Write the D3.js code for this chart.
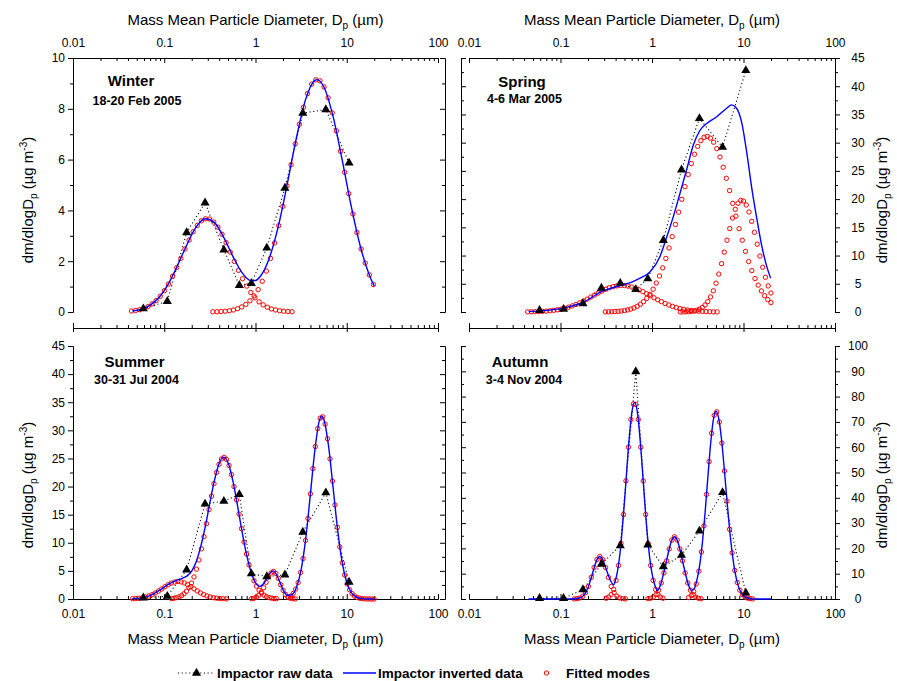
<!DOCTYPE html>
<html>
<head>
<meta charset="utf-8">
<script src="https://cdnjs.cloudflare.com/ajax/libs/d3/7.8.5/d3.min.js"></script>
<style>
  body { margin: 0; background: #fff; }
  svg { display: block; font-family: "Liberation Sans", Arial, sans-serif; }
  .axis path, .axis line { stroke: #000; stroke-width: 1; }
  .axis text { font-size: 12px; fill: #000; font-family: "Liberation Sans", Arial, sans-serif; }
</style>
</head>
<body>
<div id="chart"></div>
<script>
// impactor stage diameters (um), same for every season
var stageD = [0.059, 0.108, 0.176, 0.28, 0.45, 0.665, 0.9, 1.33, 2.1, 3.3, 5.9, 10.6];

var xMajor = [0.01, 0.1, 1, 10, 100];
var winterTicks = [0, 2, 4, 6, 8, 10];
var springTicks = [0, 5, 10, 15, 20, 25, 30, 35, 40, 45];
var summerTicks = [0, 5, 10, 15, 20, 25, 30, 35, 40, 45];
var autumnTicks = [0, 10, 20, 30, 40, 50, 60, 70, 80, 90, 100];

// ---- Winter ----
var winterRaw = [0.13, 0.42, 3.13, 4.30, 2.45, 1.05, 1.13, 2.52, 4.88, 7.83, 7.97, 5.87];
var winterInvD = [0.0447,0.0562,0.0708,0.0891,0.112,0.141,0.178,0.224,0.282,0.355,0.447,0.562,0.708,0.891,1.0,1.12,1.41,1.78,2.24,2.82,3.55,4.47,4.73,5.62,7.08,8.91,11.2,14.1,17.8,20.0];
var winterInvV = [0.04,0.11,0.28,0.60,1.13,1.86,2.67,3.35,3.67,3.52,2.95,2.21,1.56,1.23,1.24,1.39,2.10,3.38,5.08,6.89,8.38,9.12,9.15,8.86,7.70,5.99,4.16,2.58,1.43,1.02];
var winterMode1 = [0.04,0.06,0.09,0.14,0.21,0.32,0.45,0.62,0.84,1.10,1.41,1.75,2.11,2.48,2.83,3.16,3.41,3.59,3.67,3.66,3.54,3.34,3.06,2.73,2.36,1.99,1.64,1.31,1.02,0.77,0.56,0.40,0.28,0.19,0.12,0.08,0.05,0.03,0.02,0.01];
var winterMode1Range = [0.0437, 2.51];
var winterMode2 = [0.01,0.01,0.02,0.03,0.05,0.08,0.13,0.20,0.30,0.44,0.63,0.88,1.21,1.61,2.11,2.72,3.40,4.16,4.97,5.80,6.62,7.39,8.06,8.60,8.97,9.14,9.10,8.86,8.43,7.84,7.13,6.33,5.50,4.66,3.86,3.13,2.48,1.93,1.46,1.08];
var winterMode2Range = [0.341, 19.6];

// ---- Spring ----
var springRaw = [0.3, 0.5, 1.5, 4.25, 5.1, 4.0, 5.9, 12.7, 25.2, 34.3, 29.2, 42.8];
var springInvD = [0.045,0.06,0.1,0.18,0.28,0.45,0.6,0.74,0.95,1.22,1.45,1.71,2.02,2.39,2.83,3.35,3.96,5.1,6.55,7.4,8.4,9.55,10.8,12.3,14.0,15.8,18.0,19.8];
var springInvV = [0.1,0.2,0.6,1.8,3.6,4.7,5.3,6.0,7.1,9.8,13.3,16.9,21.0,25.2,29.6,32.2,33.4,34.6,36.1,36.7,36.1,33.6,28.5,22.0,16.5,11.8,8.0,6.0];
var springMode1 = [0.02,0.04,0.05,0.08,0.11,0.15,0.21,0.29,0.39,0.51,0.67,0.85,1.08,1.33,1.62,1.94,2.28,2.64,3.00,3.37,3.72,4.02,4.29,4.49,4.63,4.70,4.68,4.59,4.43,4.20,3.92,3.60,3.25,2.89,2.52,2.16,1.83,1.52,1.24,1.00,0.79,0.61,0.47,0.35,0.26,0.19,0.14,0.10,0.07,0.05,0.03,0.02];
var springMode1Range = [0.0438, 5.15];
var springMode2 = [0.02,0.03,0.05,0.08,0.12,0.17,0.25,0.37,0.52,0.73,1.00,1.37,1.83,2.41,3.14,4.04,5.12,6.39,7.82,9.48,11.34,13.36,15.51,17.69,19.97,22.21,24.34,26.30,27.95,29.34,30.35,30.95,31.10,30.80,30.08,28.94,27.45,25.65,23.69,21.51,19.25,16.98,14.76,12.71,10.74,8.94,7.33,5.93,4.76,3.74,2.89,2.21,1.66];
var springMode2Range = [0.309, 19.95];
var springMode3 = [0.01,0.02,0.03,0.06,0.11,0.18,0.31,0.51,0.81,1.24,1.85,2.68,3.75,5.10,6.72,8.57,10.60,12.72,14.78,16.65,18.19,19.26,19.77,19.66,18.96,17.72,16.06,14.11,12.01,9.91,7.93,6.15,4.62,3.37];
var springMode3Range = [2.04, 19.95];

// ---- Summer ----
var summerRaw = [0.2, 0.5, 5.2, 16.9, 17.4, 18.6, 4.5, 4.0, 4.3, 11.9, 18.9, 3.0];
var summerInvD = [0.0447,0.0562,0.0708,0.0891,0.112,0.141,0.158,0.178,0.2,0.224,0.251,0.282,0.316,0.355,0.398,0.447,0.501,0.562,0.631,0.708,0.794,0.891,1.0,1.12,1.26,1.41,1.57,1.78,2.0,2.24,2.51,2.82,3.16,3.55,3.98,4.47,5.01,5.32,5.62,6.31,7.08,7.94,8.91,10,11.2,12.6,14.1,15.8,20];
var summerInvV = [0.04,0.19,0.65,1.56,2.66,3.41,3.68,4.11,4.98,6.64,9.31,12.92,17.09,21.09,24.05,25.24,24.22,21.18,16.87,12.22,8.07,4.88,2.89,2.25,2.98,4.39,5.0,3.65,1.67,0.64,0.79,2.12,5.19,10.69,18.38,26.41,31.72,32.5,31.9,27.28,19.87,12.33,6.52,2.94,1.13,0.37,0.10,0.02,0.0];
var summerMode1 = [0.04,0.08,0.13,0.22,0.35,0.53,0.76,1.06,1.40,1.79,2.18,2.53,2.83,3.03,3.10,3.04,2.86,2.56,2.21,1.81,1.44,1.09,0.78,0.55,0.36,0.23,0.14,0.08,0.05,0.02];
var summerMode1Range = [0.045, 0.479];
var summerMode2 = [0.08,0.14,0.24,0.38,0.61,0.93,1.38,2.02,2.85,3.92,5.31,6.94,8.92,11.08,13.40,15.91,18.30,20.51,22.50,23.96,24.91,25.20,24.83,23.75,22.13,19.99,17.62,15.10,12.51,10.13,7.99,6.07,4.52,3.24,2.29,1.57,1.03,0.67,0.42,0.25,0.15,0.09,0.05];
var summerMode2Range = [0.120, 1.70];
var summerMode3 = [0.05,0.14,0.32,0.66,1.22,2.01,2.97,3.92,4.64,4.90,4.56,3.67,2.55,1.53,0.80,0.36,0.14,0.05,0.01];
var summerMode3Range = [0.904, 2.73];
var summerMode4 = [0.26,0.52,0.99,1.76,2.92,4.71,7.19,10.41,14.33,18.71,23.19,27.12,30.31,32.17,32.40,31.11,28.51,24.93,20.97,16.74,12.75,9.27,6.43,4.26,2.69,1.63,0.96,0.53,0.28,0.14,0.07,0.03,0.01,0.01,0,0];
var summerMode4Range = [2.29, 19.95];

// ---- Autumn ----
var autumnRaw = [0.25, 0.25, 3.7, 13.8, 21.1, 89.9, 21.4, 12.8, 17.3, 26.9, 42.1, 2.4];
var autumnInvD = [0.0447,0.126,0.158,0.178,0.200,0.224,0.251,0.269,0.288,0.316,0.355,0.380,0.398,0.447,0.501,0.562,0.603,0.646,0.692,0.741,0.794,0.832,0.891,0.955,1.0,1.072,1.148,1.230,1.318,1.413,1.514,1.622,1.762,1.905,2.042,2.188,2.344,2.512,2.692,2.884,3.090,3.311,3.548,3.802,4.074,4.365,4.677,5.012,5.370,5.754,6.166,6.607,7.079,7.586,8.128,8.710,9.333,10,11.22,12.59,15.85,19.95];
var autumnInvV = [0,0,0.27,1.34,4.49,10.19,15.66,16.82,15.73,11.76,7.01,5.6,7.3,18.1,38.71,63.19,73.86,77.8,73.86,63.19,48.7,38.66,25.14,14.89,10.14,5.5,3.3,5.2,9.13,13.67,18.57,22.62,24.6,22.83,18.89,13.98,9.33,5.4,3.4,4.0,7.37,13.08,21.99,34.07,47.89,61.08,70.68,74.2,71.23,63.05,51.43,38.67,26.81,17.13,10.09,5.48,2.74,1.26,0.29,0.05,0,0];
var autumnMode1 = [0.04,0.13,0.41,1.09,2.51,4.96,8.55,12.45,15.59,16.80,15.59,12.45,8.55,4.96,2.51,1.09,0.41,0.13,0.04];
var autumnMode1Range = [0.141, 0.513];
var autumnMode2 = [0.30,0.76,1.76,3.76,7.35,13.25,21.94,33.38,46.68,60.01,70.93,77.04,76.92,70.93,60.01,46.68,33.38,21.94,13.25,7.35,3.76,1.76,0.76,0.30];
var autumnMode2Range = [0.316, 1.318];
var autumnMode3 = [0.11,0.30,0.76,1.72,3.48,6.33,10.32,15.09,19.80,23.30,24.60,23.30,19.80,15.09,10.32,6.33,3.48,1.72,0.76,0.30,0.11];
var autumnMode3Range = [0.904, 3.436];
var autumnMode4 = [0.57,1.36,2.97,5.96,10.98,18.59,28.93,41.35,54.30,65.51,72.61,73.98,69.97,61.64,50.59,38.67,27.54,18.27,11.29,6.50,3.48,1.74,0.81,0.35,0.14,0.05];
var autumnMode4Range = [2.512, 12.59];

var panels = [
  { name: "Winter", date: "18-20 Feb 2005", col: 0, row: 0, ticks: winterTicks,
    raw: winterRaw, invD: winterInvD, invV: winterInvV,
    modes: [[winterMode1, winterMode1Range], [winterMode2, winterMode2Range]],
    nameAt: [131, 85.5], dateAt: [137, 104.5] },
  { name: "Spring", date: "4-6 Mar 2005", col: 1, row: 0, ticks: springTicks,
    raw: springRaw, invD: springInvD, invV: springInvV,
    modes: [[springMode1, springMode1Range], [springMode2, springMode2Range], [springMode3, springMode3Range]],
    nameAt: [522, 87], dateAt: [524.5, 103] },
  { name: "Summer", date: "30-31 Jul 2004", col: 0, row: 1, ticks: summerTicks,
    raw: summerRaw, invD: summerInvD, invV: summerInvV,
    modes: [[summerMode1, summerMode1Range], [summerMode2, summerMode2Range], [summerMode3, summerMode3Range], [summerMode4, summerMode4Range]],
    nameAt: [134.5, 366.5], dateAt: [136.5, 383.5] },
  { name: "Autumn", date: "3-4 Nov 2004", col: 1, row: 1, ticks: autumnTicks,
    raw: autumnRaw, invD: autumnInvD, invV: autumnInvV,
    modes: [[autumnMode1, autumnMode1Range], [autumnMode2, autumnMode2Range], [autumnMode3, autumnMode3Range], [autumnMode4, autumnMode4Range]],
    nameAt: [520, 366.5], dateAt: [524, 383.5] }
];

var W = 897, H = 681;
var colX = [[73, 438], [469, 835]];
var rowY = [[312, 58], [599, 346]];
var innerYAxisX = [445, 461];
var midY = 328;
var blue = "#0000ff", red = "#ff0000";

var svg = d3.select("#chart").append("svg")
    .attr("width", W)
    .attr("height", H);

function addAxis(g, gen, transform, keepText) {
  var a = g.append("g").attr("class", "axis").attr("transform", transform).call(gen);
  if (!keepText) a.selectAll("text").remove();
  return a;
}

function xTitle(sel) {
  sel.append("tspan").text("Mass Mean Particle Diameter, D");
  sel.append("tspan").attr("dy", 4).attr("font-size", "10px").text("p");
  sel.append("tspan").attr("dy", -4).text(" (\u00b5m)");
}

function yTitle(sel) {
  sel.append("tspan").text("dm/dlogD");
  sel.append("tspan").attr("dy", 4).attr("font-size", "10px").text("p");
  sel.append("tspan").attr("dy", -4).text(" (\u00b5g m");
  sel.append("tspan").attr("dy", -6).attr("font-size", "10px").text("-3");
  sel.append("tspan").attr("dy", 6).text(")");
}

var triangle = d3.symbol().type(d3.symbolTriangle).size(36);

panels.forEach(function(p) {
  var x = d3.scaleLog().domain([0.01, 100]).range(colX[p.col]);
  var yMax = p.ticks[p.ticks.length - 1];
  var y = d3.scaleLinear().domain([0, yMax]).range(rowY[p.row]);
  var step = p.ticks[1] - p.ticks[0];
  var yMinor = p.ticks.slice(1).map(function(t) { return t - step / 2; });
  var xMinor = x.ticks().filter(function(d) {
    var l = Math.log10(d);
    return Math.abs(l - Math.round(l)) > 1e-6;
  });

  var g = svg.append("g");

  // y axes
  if (p.col === 0) {
    addAxis(g, d3.axisLeft(y).tickValues(p.ticks).tickSizeInner(5).tickSizeOuter(0).tickPadding(3), "translate(73,0)", true);
    addAxis(g, d3.axisLeft(y).tickValues(yMinor).tickSizeInner(3).tickSizeOuter(0).tickFormat(""), "translate(73,0)");
    addAxis(g, d3.axisLeft(y).tickValues(p.ticks).tickSizeInner(5).tickSizeOuter(0), "translate(" + innerYAxisX[0] + ",0)");
    addAxis(g, d3.axisLeft(y).tickValues(yMinor).tickSizeInner(3).tickSizeOuter(0), "translate(" + innerYAxisX[0] + ",0)");
  } else {
    var ra = addAxis(g, d3.axisRight(y).tickValues(p.ticks).tickSizeInner(5).tickSizeOuter(0), "translate(835,0)", true);
    ra.selectAll("text").attr("x", 23).attr("text-anchor", "middle");
    addAxis(g, d3.axisRight(y).tickValues(yMinor).tickSizeInner(3).tickSizeOuter(0), "translate(835,0)");
    addAxis(g, d3.axisRight(y).tickValues(p.ticks).tickSizeInner(5).tickSizeOuter(0), "translate(" + innerYAxisX[1] + ",0)");
    addAxis(g, d3.axisRight(y).tickValues(yMinor).tickSizeInner(3).tickSizeOuter(0), "translate(" + innerYAxisX[1] + ",0)");
  }

  // x axes
  var fmt = function(d) { return String(d); };
  if (p.row === 0) {
    addAxis(g, d3.axisTop(x).tickValues(xMajor).tickSizeInner(-5).tickSizeOuter(0).tickPadding(11).tickFormat(fmt), "translate(0,58)", true);
    addAxis(g, d3.axisTop(x).tickValues(xMinor).tickSizeInner(-3).tickSizeOuter(0), "translate(0,58)");
    addAxis(g, d3.axisTop(x).tickValues(xMajor).tickSizeInner(5).tickSizeOuter(0), "translate(0," + midY + ")");
    addAxis(g, d3.axisTop(x).tickValues(xMinor).tickSizeInner(3).tickSizeOuter(0), "translate(0," + midY + ")");
    g.append("text")
        .attr("x", (colX[p.col][0] + colX[p.col][1]) / 2)
        .attr("y", 24.5)
        .attr("text-anchor", "middle")
        .attr("font-size", "15px")
        .call(xTitle);
  } else {
    addAxis(g, d3.axisBottom(x).tickValues(xMajor).tickSizeInner(-5).tickSizeOuter(0).tickPadding(10).tickFormat(fmt), "translate(0,599)", true);
    addAxis(g, d3.axisBottom(x).tickValues(xMinor).tickSizeInner(-3).tickSizeOuter(0), "translate(0,599)");
    addAxis(g, d3.axisBottom(x).tickValues(xMajor).tickSizeInner(4).tickSizeOuter(0), "translate(0," + midY + ")");
    g.append("text")
        .attr("x", (colX[p.col][0] + colX[p.col][1]) / 2)
        .attr("y", 643.5)
        .attr("text-anchor", "middle")
        .attr("font-size", "15px")
        .call(xTitle);
  }

  // y title
  var yc = p.row === 0 ? 200 : 485;
  var tx = p.col === 0 ? 33 : 887;
  g.append("text")
      .attr("transform", "translate(" + tx + "," + yc + ") rotate(-90)")
      .attr("text-anchor", "middle")
      .attr("font-size", "15px")
      .call(yTitle);

  // raw data: dotted line
  var rawPts = stageD.map(function(d, i) { return [d, p.raw[i]]; });
  g.append("path")
      .datum(rawPts)
      .attr("fill", "none")
      .attr("stroke", "#000")
      .attr("stroke-width", 1.1)
      .attr("stroke-dasharray", "1.1,2.6")
      .attr("d", d3.line().x(function(d) { return x(d[0]); }).y(function(d) { return y(d[1]); }));

  // fitted modes (red open circles)
  p.modes.forEach(function(m) {
    var vals = m[0], l0 = Math.log10(m[1][0]), l1 = Math.log10(m[1][1]);
    var n = vals.length;
    var pts = vals.map(function(v, i) { return [Math.pow(10, l0 + (l1 - l0) * i / (n - 1)), v]; });
    g.append("g").selectAll("circle")
        .data(pts)
        .enter()
        .append("circle")
        .attr("cx", function(d) { return x(d[0]); })
        .attr("cy", function(d) { return y(d[1]); })
        .attr("r", 2.2)
        .attr("fill", "none")
        .attr("stroke", red)
        .attr("stroke-width", 1);
  });

  // inverted data (blue line)
  var invPts = p.invD.map(function(d, i) { return [d, p.invV[i]]; });
  g.append("path")
      .datum(invPts)
      .attr("fill", "none")
      .attr("stroke", blue)
      .attr("stroke-width", 1.4)
      .attr("d", d3.line().curve(d3.curveMonotoneX).x(function(d) { return x(d[0]); }).y(function(d) { return y(d[1]); }));

  // raw data triangles
  g.append("g").selectAll("path")
      .data(rawPts)
      .enter()
      .append("path")
      .attr("d", triangle)
      .attr("transform", function(d) { return "translate(" + x(d[0]) + "," + y(d[1]) + ")"; })
      .attr("fill", "#000");

  // season labels
  g.append("text")
      .attr("x", p.nameAt[0]).attr("y", p.nameAt[1])
      .attr("text-anchor", "middle")
      .attr("font-size", "15px")
      .attr("font-weight", "bold")
      .text(p.name);
  g.append("text")
      .attr("x", p.dateAt[0]).attr("y", p.dateAt[1])
      .attr("text-anchor", "middle")
      .attr("font-size", "12.5px")
      .attr("font-weight", "bold")
      .text(p.date);
});

// legend
var leg = svg.append("g").attr("font-size", "13.5px").attr("font-weight", "bold");
var ly = 673;
leg.append("line")
    .attr("x1", 178).attr("x2", 214).attr("y1", ly).attr("y2", ly)
    .attr("stroke", "#000").attr("stroke-width", 1.1).attr("stroke-dasharray", "1.1,2.6");
leg.append("path").attr("d", triangle).attr("transform", "translate(196.5," + ly + ")").attr("fill", "#000");
leg.append("text").attr("x", 217).attr("y", ly + 5).text("Impactor raw data");
leg.append("line")
    .attr("x1", 343).attr("x2", 376).attr("y1", ly).attr("y2", ly)
    .attr("stroke", blue).attr("stroke-width", 1.4);
leg.append("text").attr("x", 378).attr("y", ly + 5).text("Impactor inverted data");
leg.append("circle").attr("cx", 546.5).attr("cy", ly).attr("r", 2.2)
    .attr("fill", "none").attr("stroke", red).attr("stroke-width", 1);
leg.append("text").attr("x", 566).attr("y", ly + 5).text("Fitted modes");
</script>
</body>
</html>
